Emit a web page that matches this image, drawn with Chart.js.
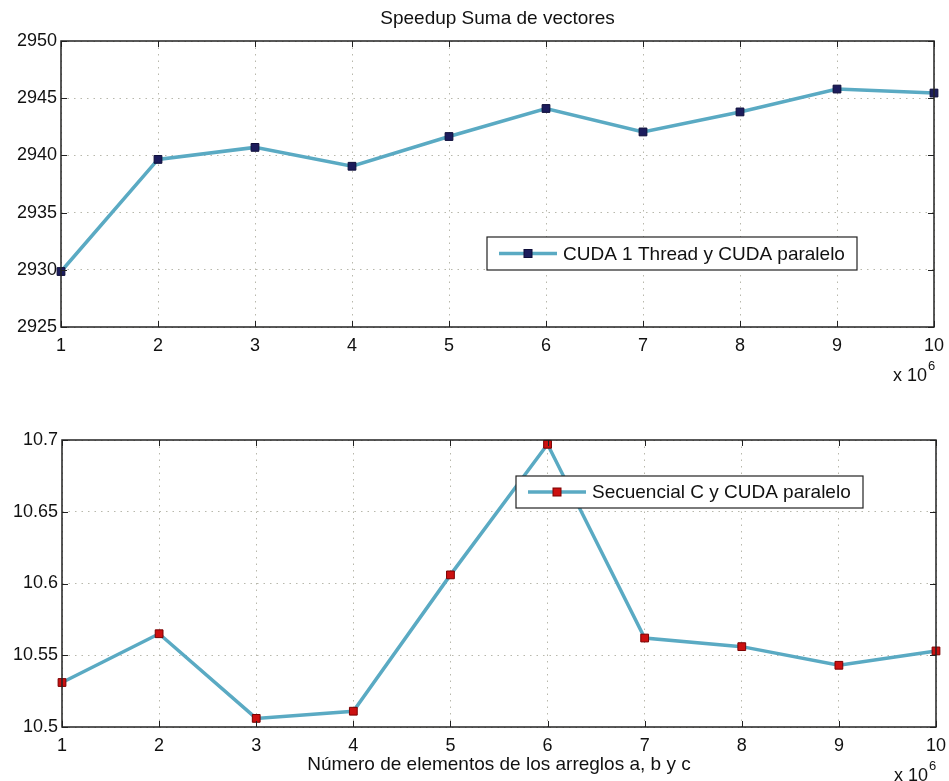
<!DOCTYPE html>
<html>
<head>
<meta charset="utf-8">
<script src="https://cdn.jsdelivr.net/npm/chart.js@4/dist/chart.umd.min.js"></script>
<style>
html,body{margin:0;padding:0;background:#fff;}
#wrap{position:relative;width:949px;height:781px;overflow:hidden;background:#fff;}
canvas{position:absolute;left:0;}
#c1{top:0;}
#c2{top:390px;}
</style>
</head>
<body>
<div id="wrap">
<canvas id="c1" width="949" height="390"></canvas>
<canvas id="c2" width="949" height="391"></canvas>
</div>
<script>
// ---- data ----
const xValues = [1, 2, 3, 4, 5, 6, 7, 8, 9, 10];
const speedupCuda1Thread = [2929.85, 2939.65, 2940.7, 2939.05, 2941.65, 2944.1, 2942.05, 2943.8, 2945.8, 2945.45];
const speedupSecuencialC = [10.531, 10.565, 10.506, 10.511, 10.606, 10.697, 10.562, 10.556, 10.543, 10.553];
const topYTicks = [2925, 2930, 2935, 2940, 2945, 2950];
const bottomYTicks = [10.5, 10.55, 10.6, 10.65, 10.7];
const chartTitle = 'Speedup Suma de vectores';
const legendTop = 'CUDA 1 Thread y CUDA paralelo';
const legendBottom = 'Secuencial C y CUDA paralelo';
const xAxisTitle = 'Número de elementos de los arreglos a, b y c';

const FONT = '"Liberation Sans", Arial, Helvetica, sans-serif';
const LINE_COLOR = '#5aaac3';

function pts(vals){ return xValues.map((x,i)=>({x:x, y:vals[i]})); }

// plugin: box, inward ticks, legend, title, exponent
const decor = {
  id: 'decor',
  afterDraw(chart, args, opts) {
    const ctx = chart.ctx, a = chart.chartArea;
    const xs = chart.scales.x, ys = chart.scales.y;
    ctx.save();
    // inward tick marks
    ctx.strokeStyle = '#222';
    ctx.lineWidth = 1;
    ctx.beginPath();
    xs.ticks.forEach(t => {
      const px = Math.round(xs.getPixelForValue(t.value)) + 0.5;
      ctx.moveTo(px, a.top); ctx.lineTo(px, a.top + 6);
      ctx.moveTo(px, a.bottom); ctx.lineTo(px, a.bottom - 6);
    });
    ys.ticks.forEach(t => {
      const py = Math.round(ys.getPixelForValue(t.value)) + 0.5;
      ctx.moveTo(a.left, py); ctx.lineTo(a.left + 6, py);
      ctx.moveTo(a.right, py); ctx.lineTo(a.right - 6, py);
    });
    ctx.stroke();
    // box
    ctx.lineWidth = 1.5;
    ctx.strokeStyle = '#222';
    ctx.strokeRect(a.left, a.top, a.right - a.left, a.bottom - a.top);
    // title
    if (opts.title) {
      ctx.fillStyle = '#111';
      ctx.font = '19px ' + FONT;
      ctx.textAlign = 'center';
      ctx.textBaseline = 'middle';
      ctx.fillText(opts.title, (a.left + a.right) / 2, opts.titleY);
    }
    // exponent label
    ctx.fillStyle = '#111';
    ctx.font = '18px ' + FONT;
    ctx.textAlign = 'right';
    ctx.textBaseline = 'middle';
    ctx.fillText('x 10', opts.expX, opts.expY);
    ctx.font = '13px ' + FONT;
    ctx.textAlign = 'left';
    ctx.fillText('6', opts.expX + 1, opts.expY - 10);
    // legend
    const L = opts.legend;
    ctx.fillStyle = '#fff';
    ctx.fillRect(L.x, L.y, L.w, L.h);
    ctx.lineWidth = 1.2;
    ctx.strokeStyle = '#222';
    ctx.strokeRect(L.x, L.y, L.w, L.h);
    const cy = L.y + L.h / 2;
    ctx.strokeStyle = LINE_COLOR;
    ctx.lineWidth = 3.5;
    ctx.beginPath();
    ctx.moveTo(L.x + 12, cy); ctx.lineTo(L.x + 70, cy);
    ctx.stroke();
    ctx.fillStyle = L.marker;
    ctx.fillRect(L.x + 41 - 4, cy - 4, 8, 8);
    ctx.strokeStyle = L.markerBorder;
    ctx.lineWidth = 1;
    ctx.strokeRect(L.x + 41 - 4, cy - 4, 8, 8);
    ctx.fillStyle = '#111';
    ctx.font = '19px ' + FONT;
    ctx.textAlign = 'left';
    ctx.textBaseline = 'middle';
    ctx.fillText(L.text, L.x + 76, cy + 1);
    ctx.restore();
  }
};

function makeChart(id, vals, yTicks, yMin, yMax, markerColor, markerBorder, layout, decorOpts, withXTitle) {
  return new Chart(document.getElementById(id), {
    type: 'line',
    data: {
      datasets: [{
        data: pts(vals),
        borderColor: LINE_COLOR,
        borderWidth: 3.5,
        pointStyle: 'rect',
        pointRadius: 5.5,
        pointBackgroundColor: markerColor,
        pointBorderColor: markerBorder,
        pointBorderWidth: 1,
        tension: 0,
        fill: false,
        clip: false
      }]
    },
    options: {
      responsive: false,
      animation: false,
      events: [],
      layout: { padding: layout.padding },
      plugins: {
        legend: { display: false },
        title: { display: false },
        tooltip: { enabled: false },
        decor: decorOpts
      },
      scales: {
        x: {
          type: 'linear',
          min: xValues[0],
          max: xValues[xValues.length - 1],
          afterBuildTicks: s => { s.ticks = xValues.map(v => ({ value: v })); },
          afterFit: s => { s.height = layout.xHeight; s.paddingLeft = 0; s.paddingRight = 0; },
          ticks: {
            padding: 8,
            color: '#111',
            font: { family: FONT, size: 18 },
            maxRotation: 0,
            callback: v => String(v)
          },
          grid: { color: '#b8b8ac', lineWidth: 1, drawTicks: false },
          border: { display: false, dash: [1.5, 5] },
          title: withXTitle ? {
            display: true,
            text: xAxisTitle,
            color: '#111',
            font: { family: FONT, size: 19 },
            padding: { top: 0, bottom: 5 }
          } : { display: false }
        },
        y: {
          min: yMin,
          max: yMax,
          afterBuildTicks: s => { s.ticks = yTicks.map(v => ({ value: v })); },
          afterFit: s => { s.width = layout.yWidth; s.paddingTop = 0; s.paddingBottom = 0; },
          ticks: {
            padding: 4,
            color: '#111',
            font: { family: FONT, size: 18 },
            callback: v => String(Number(v.toFixed(2)))
          },
          grid: { color: '#b8b8ac', lineWidth: 1, drawTicks: false },
          border: { display: false, dash: [1.5, 5] }
        }
      }
    },
    plugins: [decor]
  });
}

makeChart('c1', speedupCuda1Thread, topYTicks, 2925, 2950, '#1c1c5c', '#0e0e3a',
  { padding: { top: 41, right: 15, left: 0, bottom: 0 }, xHeight: 63, yWidth: 61 },
  { title: chartTitle, titleY: 19, expX: 927, expY: 376,
    legend: { x: 487, y: 237, w: 370, h: 33, text: legendTop, marker: '#1c1c5c', markerBorder: '#0e0e3a' } },
  false);

makeChart('c2', speedupSecuencialC, bottomYTicks, 10.5, 10.7, '#cc1010', '#7a0000',
  { padding: { top: 50, right: 13, left: 0, bottom: 0 }, xHeight: 54, yWidth: 62 },
  { title: null, titleY: 0, expX: 928, expY: 386,
    legend: { x: 516, y: 86, w: 347, h: 32, text: legendBottom, marker: '#cc1010', markerBorder: '#7a0000' } },
  true);
</script>
</body>
</html>
